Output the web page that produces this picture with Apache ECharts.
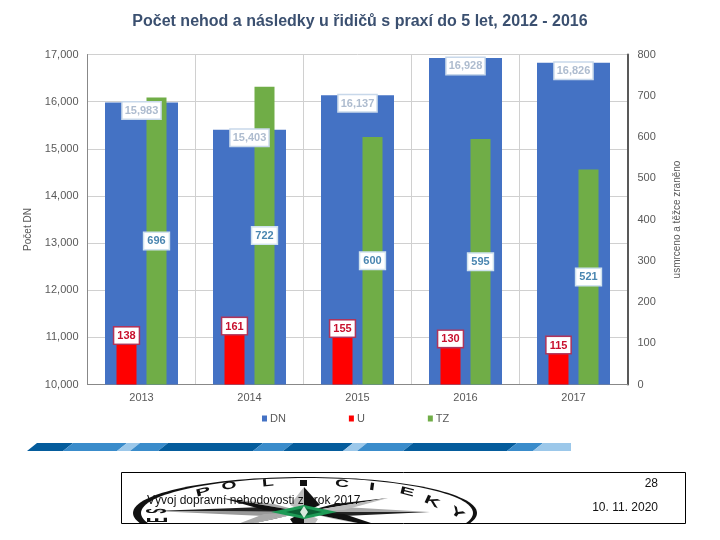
<!DOCTYPE html>
<html>
<head>
<meta charset="utf-8">
<script src="https://cdn.jsdelivr.net/npm/echarts@6/dist/echarts.min.js"></script>
<style>
  html, body { margin: 0; padding: 0; background: #fff; }
  #chart { width: 720px; height: 540px; }
</style>
</head>
<body>
<div id="chart"></div>
<script>
// hodnoty
var categories = ['2013', '2014', '2015', '2016', '2017'];
var dnValues = [15983, 15403, 16137, 16928, 16826];
var uValues = [138, 161, 155, 130, 115];
var tzValues = [696, 722, 600, 595, 521];

var fontName = '"Liberation Sans", Arial, sans-serif';
var textGrey = '#595959';

function barLabel(position, color, border, pad, fmt) {
  return {
    show: true,
    position: position,
    distance: 0,
    fontFamily: fontName,
    fontSize: 11,
    fontWeight: 'bold',
    color: color,
    backgroundColor: '#fff',
    borderColor: border,
    borderWidth: 1.5,
    padding: [3, pad, 2, pad],
    formatter: fmt
  };
}

// pruh nad patickou
var stripeSegments = [
  [37, 73, '#045c9c'], [73, 127, '#3a8ccb'], [127, 140, '#9cc8ea'], [140, 168, '#3a8ccb'],
  [168, 263, '#045c9c'], [263, 293, '#3a8ccb'], [293, 353, '#045c9c'], [353, 367, '#9cc8ea'],
  [367, 413, '#3a8ccb'], [413, 517, '#045c9c'], [517, 543, '#3a8ccb'], [543, 581, '#9cc8ea']
];
var stripes = stripeSegments.map(function (s) {
  var rightBottom = s[1] === 581 ? 571 : s[1] - 10;
  var rightTop = s[1] === 581 ? 571 : s[1];
  return {
    type: 'polygon',
    shape: { points: [[s[0], 443], [rightTop, 443], [rightBottom, 451], [s[0] - 10, 451]] },
    style: { fill: s[2] }
  };
});

// rozeta ve znaku
function ray(points, fill) {
  return { type: 'polygon', shape: { points: points }, style: { fill: fill } };
}
var cx = 304, cy = 512;
var star = [
  ray([[cx, 487], [cx, cy], [cx - 14, cy - 7]], '#bdbdbd'),
  ray([[cx, 487], [cx, cy], [cx + 16, cy - 7]], '#111'),
  ray([[cx, 540], [cx, cy], [cx - 14, cy + 7]], '#111'),
  ray([[cx, 540], [cx, cy], [cx + 14, cy + 7]], '#bdbdbd'),
  ray([[153, cy - 1], [cx, cy], [cx - 40, cy - 5]], '#222'),
  ray([[153, cy - 1], [cx, cy], [cx - 40, cy + 4]], '#999'),
  ray([[430, cy], [cx, cy], [cx + 40, cy - 5]], '#aaa'),
  ray([[430, cy], [cx, cy], [cx + 40, cy + 4]], '#222'),
  ray([[222, 498], [cx, cy], [cx - 30, cy - 8]], '#aaa'),
  ray([[222, 498], [cx, cy], [cx - 40, cy - 2]], '#111'),
  ray([[388, 498], [cx, cy], [cx + 30, cy - 8]], '#111'),
  ray([[388, 498], [cx, cy], [cx + 40, cy - 2]], '#bbb'),
  ray([[222, 530], [cx, cy], [cx - 30, cy + 7]], '#111'),
  ray([[222, 530], [cx, cy], [cx - 40, cy + 2]], '#aaa'),
  ray([[392, 530], [cx, cy], [cx + 30, cy + 7]], '#bbb'),
  ray([[392, 530], [cx, cy], [cx + 40, cy + 2]], '#111'),
  ray([[271, cy], [cx, 505], [337, cy], [cx, 519]], '#1d9a55'),
  ray([[286, cy], [cx, 508], [322, cy], [cx, 516]], '#0b5f34'),
  ray([[cx - 4, cy], [cx, 506], [cx + 4, cy], [cx, 518]], '#d8e8dc'),
  { type: 'rect', shape: { x: 300, y: 480, width: 7, height: 6 }, style: { fill: '#111' } }
];

// pismena na obvodu znaku: znak, x, y, natoceni ve stupnich, meritko x, y
var sealLetters = [
  ['S', 158, 511, 90, 0.5, 2.0], ['E', 159, 520, 90, 0.5, 2.0],
  ['P', 203, 492, 14, 1.5, 0.7], ['O', 229, 486, 9, 1.3, 0.7], ['L', 268, 483, 5, 1.3, 0.7],
  ['C', 342, 484, -5, 1.3, 0.7], ['I', 372, 487, -8, 1.5, 0.7], ['E', 407, 492, -14, 1.5, 0.7],
  ['K', 432, 502, -25, 1.5, 0.8], ['Y', 457, 513, -35, 1.5, 0.8]
];
var letters = sealLetters.map(function (l) {
  return {
    type: 'text',
    x: l[1], y: l[2],
    rotation: l[3] * Math.PI / 180,
    scaleX: l[4], scaleY: l[5],
    style: {
      text: l[0], fill: '#111', align: 'center', verticalAlign: 'middle',
      font: 'bold 15px ' + fontName
    }
  };
});

var footer = [].concat(
  stripes,
  [
    { type: 'ellipse', shape: { cx: 305, cy: 513, rx: 172, ry: 36 }, style: { fill: '#111' } },
    { type: 'ellipse', shape: { cx: 307, cy: 513, rx: 166, ry: 35 }, style: { fill: '#fff' } }
  ],
  star,
  letters,
  [
    // znak je patickou oriznuty
    { type: 'rect', shape: { x: 0, y: 524, width: 720, height: 16 }, style: { fill: '#fff' } },
    { type: 'rect', shape: { x: 121.5, y: 472.5, width: 564, height: 51 }, style: { fill: 'none', stroke: '#000', lineWidth: 1 } },
    { type: 'text', x: 147, y: 501, style: { text: 'Vývoj dopravní nehodovosti za rok 2017', fill: '#111', verticalAlign: 'middle', font: '12px ' + fontName } },
    { type: 'text', x: 658, y: 484, style: { text: '28', fill: '#111', align: 'right', verticalAlign: 'middle', font: '12px ' + fontName } },
    { type: 'text', x: 658, y: 508, style: { text: '10. 11. 2020', fill: '#111', align: 'right', verticalAlign: 'middle', font: '12px ' + fontName } }
  ]
);

var myChart = echarts.init(document.getElementById('chart'), null, { renderer: 'canvas' });
myChart.setOption({
  animation: false,
  backgroundColor: '#fff',
  title: {
    text: 'Počet nehod a následky u řidičů s praxí do 5 let, 2012 - 2016',
    left: 'center',
    top: 9,
    textStyle: { fontFamily: fontName, fontSize: 16, fontWeight: 'bold', color: '#3b5070' }
  },
  legend: {
    left: 257,
    top: 408,
    icon: 'rect',
    itemWidth: 5,
    itemHeight: 6,
    itemGap: 63,
    textStyle: { fontFamily: fontName, fontSize: 11, color: textGrey, padding: [0, 0, 0, -2] }
  },
  grid: { left: 87.5, top: 54.5, width: 540, height: 330 },
  xAxis: [
    {
      type: 'category',
      data: categories,
      axisLine: { lineStyle: { color: '#888', width: 1 } },
      axisTick: { show: false },
      axisLabel: { fontFamily: fontName, fontSize: 11, color: textGrey, margin: 8 },
      splitLine: { show: true, interval: 0, lineStyle: { color: '#d0d0d0', width: 1 } }
    },
    { type: 'category', data: categories, show: false }
  ],
  yAxis: [
    {
      type: 'value',
      min: 10000,
      max: 17000,
      interval: 1000,
      name: 'Počet DN',
      nameLocation: 'middle',
      nameGap: 54,
      nameTextStyle: { fontFamily: fontName, fontSize: 10, color: textGrey, padding: [0, 20, 0, 0] },
      axisLine: { show: true, lineStyle: { color: '#888', width: 1 } },
      axisTick: { show: false },
      axisLabel: { fontFamily: fontName, fontSize: 11, color: textGrey, margin: 9 },
      splitLine: { show: true, lineStyle: { color: '#d0d0d0', width: 1 } }
    },
    {
      type: 'value',
      position: 'right',
      min: 0,
      max: 800,
      interval: 100,
      name: 'usmrceno a těžce zraněno',
      nameLocation: 'middle',
      nameRotate: 90,
      nameGap: 45,
      nameTextStyle: { fontFamily: fontName, fontSize: 10, color: textGrey },
      axisLine: { show: true, lineStyle: { color: '#595959', width: 2 } },
      axisTick: { show: false },
      axisLabel: { fontFamily: fontName, fontSize: 11, color: textGrey, margin: 10 },
      splitLine: { show: false }
    }
  ],
  series: [
    {
      name: 'DN',
      type: 'bar',
      xAxisIndex: 0,
      yAxisIndex: 0,
      data: dnValues,
      barWidth: 73,
      itemStyle: { color: '#4472c4' },
      label: barLabel('insideTop', '#aebccf', '#c8d8ea', 2, function (p) {
        return p.value.toLocaleString('en-US');
      })
    },
    {
      name: 'U',
      type: 'bar',
      xAxisIndex: 1,
      yAxisIndex: 1,
      data: uValues,
      barWidth: 20,
      barGap: '50%',
      itemStyle: { color: '#ff0000' },
      label: barLabel('insideTop', '#c8102e', '#b0345a', 3)
    },
    {
      name: 'TZ',
      type: 'bar',
      xAxisIndex: 1,
      yAxisIndex: 1,
      data: tzValues,
      barWidth: 20,
      barGap: '50%',
      itemStyle: { color: '#70ad47' },
      label: barLabel('inside', '#4a86b0', '#cfe2ee', 3)
    }
  ],
  graphic: { elements: footer }
});
</script>
</body>
</html>
